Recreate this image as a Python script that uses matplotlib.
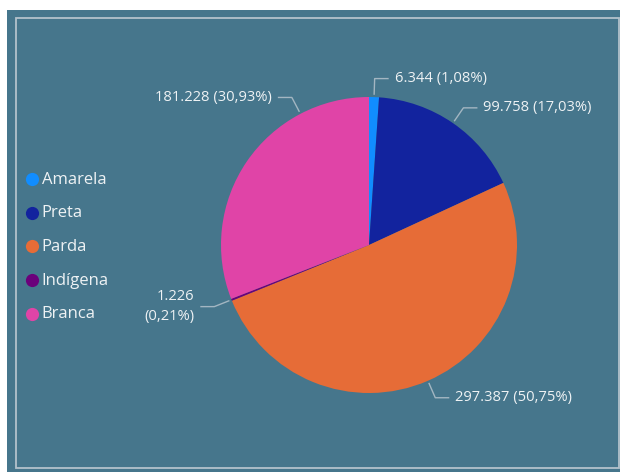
import numpy as np
import matplotlib
matplotlib.use("Agg")
import matplotlib.pyplot as plt
from matplotlib.patches import Rectangle

categories = ["Amarela", "Preta", "Parda", "Indígena", "Branca"]
values = [6344, 99758, 297387, 1226, 181228]
colors = ["#118DFF", "#12239E", "#E66C37", "#6B007B", "#E044A7"]

plt.rcParams['font.family'] = ['Open Sans', 'DejaVu Sans']

W, H = 620, 472
CX, CY, R = 369, 245, 148
bg = "#46768C"
txt = "#EEF2F4"
lead = "#A3B6C2"

fig = plt.figure(figsize=(W / 100, H / 100), dpi=100, facecolor="white")
ax = fig.add_axes([0, 0, 1, 1])


def pix(x, y):
    return (x - CX) / R, (CY - y) / R


# panel background and inner border
x0, y0 = pix(7, H)
x1, y1 = pix(W, 10)
ax.add_patch(Rectangle((x0, y0), x1 - x0, y1 - y0, facecolor=bg, edgecolor="none", zorder=0))
x0, y0 = pix(16, 468)
x1, y1 = pix(619, 18)
ax.add_patch(Rectangle((x0, y0), x1 - x0, y1 - y0, facecolor="none", edgecolor="#B3C2CC", lw=1.3, zorder=1))

wedges, _ = ax.pie(values, colors=colors, startangle=90, counterclock=False, radius=1.0,
                   center=(0, 0), wedgeprops=dict(linewidth=0), frame=False)
ax.set_xlim(-CX / R, (W - CX) / R)
ax.set_ylim(-(H - CY) / R, CY / R)
ax.set_aspect("equal")
ax.axis("off")

total = sum(values)


def fmt(v):
    p = v / total * 100
    return f"{v:,}".replace(",", "."), "(" + f"{p:.2f}".replace(".", ",") + "%)"


# label anchor angle overrides (Power BI moved this one)
angle_override = {"Branca": 117.6}

for w, name, v in zip(wedges, categories, values):
    mid = (w.theta1 + w.theta2) / 2
    ang = np.deg2rad(angle_override.get(name, mid))
    ex, ey = 1.02 * np.cos(ang), 1.02 * np.sin(ang)
    bx, by = 1.125 * np.cos(ang), 1.125 * np.sin(ang)
    side = 1 if np.cos(ang) >= 0 else -1
    hx = bx + side * 0.09
    ax.plot([ex, bx, hx], [ey, by, by], color=lead, lw=1.0, zorder=3)
    num, pct = fmt(v)
    if name == "Indígena":
        label = f"{num}\n{pct}"
    else:
        label = f"{num} {pct}"
    ax.text(hx + side * 0.045, by, label, color=txt, fontsize=10.6,
            ha="left" if side > 0 else "right", va="center",
            multialignment="right", linespacing=1.4, zorder=4)

# legend
for i, (name, c) in enumerate(zip(categories, colors)):
    ly = 179 + i * 33.7
    mx, my = pix(32, ly)
    ax.plot(mx, my, "o", color=c, markersize=9.5, markeredgewidth=0, zorder=4)
    tx, ty = pix(41.5, ly + 0.5)
    ax.text(tx, ty, name, color=txt, fontsize=12, ha="left", va="center", zorder=4)

fig.savefig("out.png", dpi=100, facecolor="white")
